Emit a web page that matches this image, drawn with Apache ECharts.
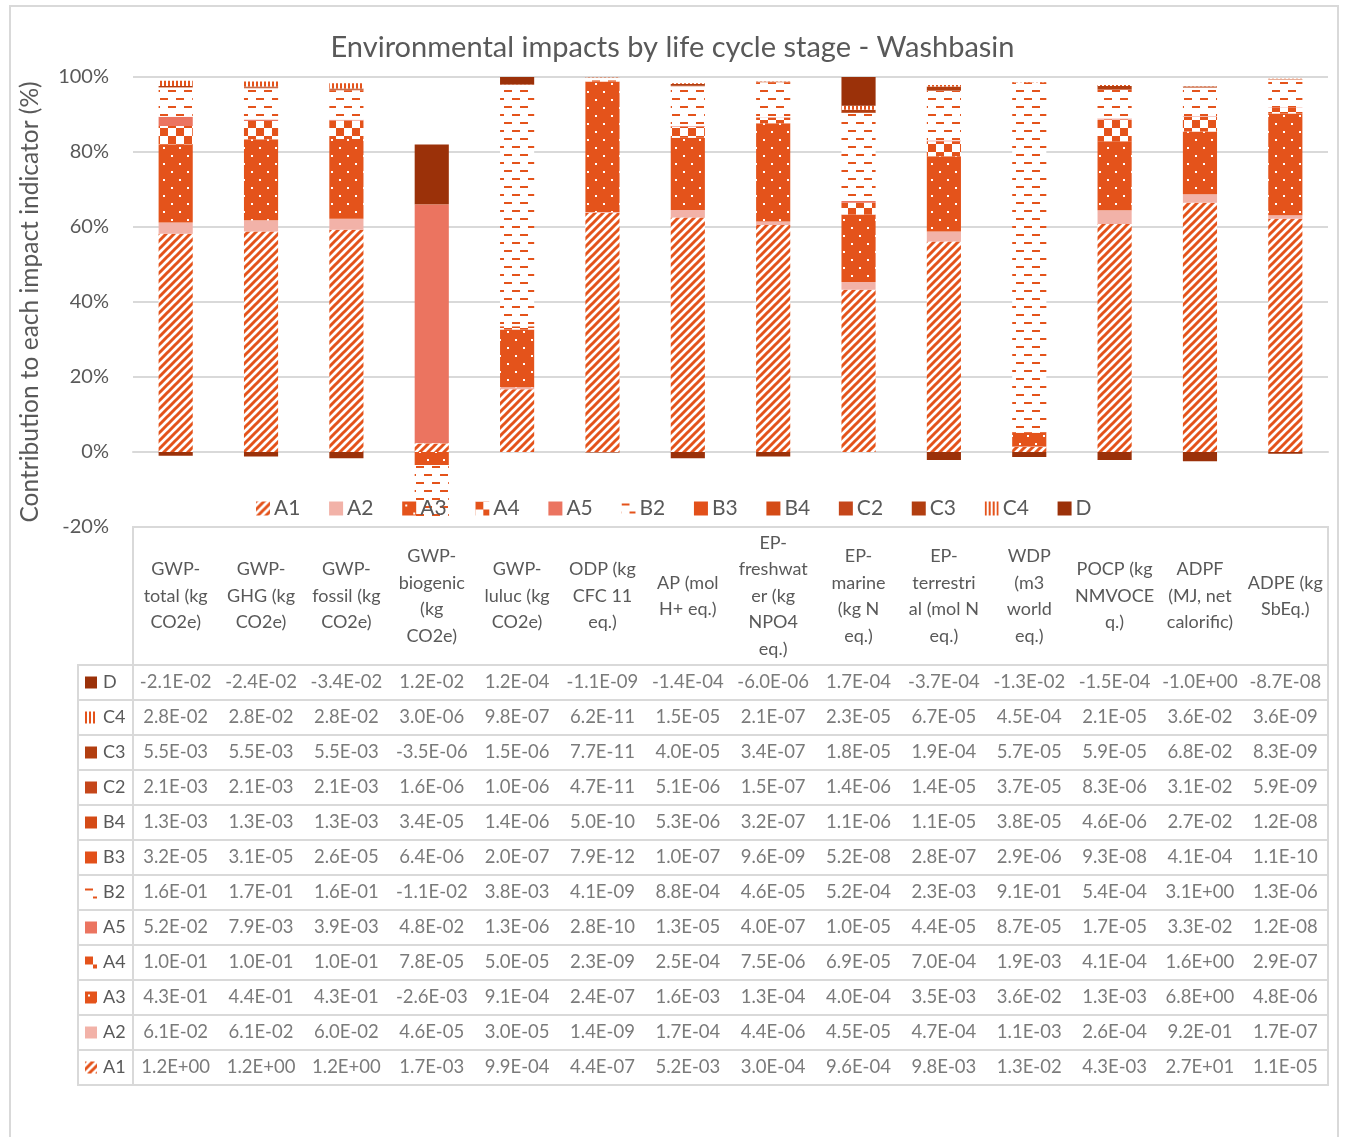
<!DOCTYPE html>
<html>
<head>
<meta charset="utf-8">
<script src="https://cdn.jsdelivr.net/npm/echarts@6/dist/echarts.min.js"></script>
<style>
html,body{margin:0;padding:0;background:#fff;}
#frame{position:absolute;left:9px;top:5px;width:1326px;height:1200px;border:2px solid #d9d9d9;}
#chart{position:absolute;left:0;top:0;width:1345px;height:1137px;}
</style>
</head>
<body>
<div id="frame"></div>
<div id="chart"></div>
<script>
// ---------------- DATA ----------------
const categories = [
  'GWP-\ntotal (kg\nCO2e)', 'GWP-\nGHG (kg\nCO2e)', 'GWP-\nfossil (kg\nCO2e)', 'GWP-\nbiogenic\n(kg\nCO2e)',
  'GWP-\nluluc (kg\nCO2e)', 'ODP (kg\nCFC 11\neq.)', 'AP (mol\nH+ eq.)', 'EP-\nfreshwat\ner (kg\nNPO4\neq.)',
  'EP-\nmarine\n(kg N\neq.)', 'EP-\nterrestri\nal (mol N\neq.)', 'WDP\n(m3\nworld\neq.)', 'POCP (kg\nNMVOCE\nq.)',
  'ADPF\n(MJ, net\ncalorific)', 'ADPE (kg\nSbEq.)'
];
const stages = ['A1','A2','A3','A4','A5','B2','B3','B4','C2','C3','C4','D'];
const tableRows = ['D','C4','C3','C2','B4','B3','B2','A5','A4','A3','A2','A1'];
const yTicks = [-20, 0, 20, 40, 60, 80, 100];

const A1 = [1.2e+0, 1.2e+0, 1.2e+0, 1.7e-3, 9.9e-4, 4.4e-7, 5.2e-3, 3.0e-4, 9.6e-4, 9.8e-3, 1.3e-2, 4.3e-3, 2.7e+1, 1.1e-5];
const A2 = [6.1e-2, 6.1e-2, 6.0e-2, 4.6e-5, 3.0e-5, 1.4e-9, 1.7e-4, 4.4e-6, 4.5e-5, 4.7e-4, 1.1e-3, 2.6e-4, 9.2e-1, 1.7e-7];
const A3 = [4.3e-1, 4.4e-1, 4.3e-1, -2.6e-3, 9.1e-4, 2.4e-7, 1.6e-3, 1.3e-4, 4.0e-4, 3.5e-3, 3.6e-2, 1.3e-3, 6.8e+0, 4.8e-6];
const A4 = [1.0e-1, 1.0e-1, 1.0e-1, 7.8e-5, 5.0e-5, 2.3e-9, 2.5e-4, 7.5e-6, 6.9e-5, 7.0e-4, 1.9e-3, 4.1e-4, 1.6e+0, 2.9e-7];
const A5 = [5.2e-2, 7.9e-3, 3.9e-3, 4.8e-2, 1.3e-6, 2.8e-10, 1.3e-5, 4.0e-7, 1.0e-5, 4.4e-5, 8.7e-5, 1.7e-5, 3.3e-2, 1.2e-8];
const B2 = [1.6e-1, 1.7e-1, 1.6e-1, -1.1e-2, 3.8e-3, 4.1e-9, 8.8e-4, 4.6e-5, 5.2e-4, 2.3e-3, 9.1e-1, 5.4e-4, 3.1e+0, 1.3e-6];
const B3 = [3.2e-5, 3.1e-5, 2.6e-5, 6.4e-6, 2.0e-7, 7.9e-12, 1.0e-7, 9.6e-9, 5.2e-8, 2.8e-7, 2.9e-6, 9.3e-8, 4.1e-4, 1.1e-10];
const B4 = [1.3e-3, 1.3e-3, 1.3e-3, 3.4e-5, 1.4e-6, 5.0e-10, 5.3e-6, 3.2e-7, 1.1e-6, 1.1e-5, 3.8e-5, 4.6e-6, 2.7e-2, 1.2e-8];
const C2 = [2.1e-3, 2.1e-3, 2.1e-3, 1.6e-6, 1.0e-6, 4.7e-11, 5.1e-6, 1.5e-7, 1.4e-6, 1.4e-5, 3.7e-5, 8.3e-6, 3.1e-2, 5.9e-9];
const C3 = [5.5e-3, 5.5e-3, 5.5e-3, -3.5e-6, 1.5e-6, 7.7e-11, 4.0e-5, 3.4e-7, 1.8e-5, 1.9e-4, 5.7e-5, 5.9e-5, 6.8e-2, 8.3e-9];
const C4 = [2.8e-2, 2.8e-2, 2.8e-2, 3.0e-6, 9.8e-7, 6.2e-11, 1.5e-5, 2.1e-7, 2.3e-5, 6.7e-5, 4.5e-4, 2.1e-5, 3.6e-2, 3.6e-9];
const D  = [-2.1e-2, -2.4e-2, -3.4e-2, 1.2e-2, 1.2e-4, -1.1e-9, -1.4e-4, -6.0e-6, 1.7e-4, -3.7e-4, -1.3e-2, -1.5e-4, -1.0e+0, -8.7e-8];

const values = {A1, A2, A3, A4, A5, B2, B3, B4, C2, C3, C4, D};

// ---------------- STYLE ----------------
const OR = '#E4531B';
const TXT = '#595959';
const LINE = '#d9d9d9';
const FONT = 'Lato';

function tile(w, h, fn) {
  const c = document.createElement('canvas');
  c.width = w; c.height = h;
  const g = c.getContext('2d');
  fn(g, w, h);
  return c;
}
const tiles = {
  A1: tile(8, 8, g => {
    g.fillStyle = '#fff'; g.fillRect(0, 0, 8, 8);
    g.strokeStyle = OR; g.lineWidth = 3;
    g.beginPath();
    g.moveTo(-4, 12); g.lineTo(12, -4);
    g.moveTo(-4, 4); g.lineTo(4, -4);
    g.moveTo(4, 12); g.lineTo(12, 4);
    g.stroke();
  }),
  A3: tile(16, 16, g => {
    g.fillStyle = OR; g.fillRect(0, 0, 16, 16);
    g.fillStyle = '#fff'; g.fillRect(3, 3, 2, 2); g.fillRect(11, 11, 2, 2);
  }),
  A4: tile(16, 16, g => {
    g.fillStyle = '#fff'; g.fillRect(0, 0, 16, 16);
    g.fillStyle = OR; g.fillRect(0, 0, 8, 8); g.fillRect(8, 8, 8, 8);
  }),
  B2: tile(16, 16, g => {
    g.fillStyle = '#fff'; g.fillRect(0, 0, 16, 16);
    g.fillStyle = OR; g.fillRect(0, 2, 8, 2); g.fillRect(8, 10, 8, 2);
  }),
  C4: tile(4, 4, g => {
    g.fillStyle = '#fff'; g.fillRect(0, 0, 4, 4);
    g.fillStyle = OR; g.fillRect(0, 0, 2, 4);
  })
};
const solid = {
  A2: '#F2B2A8', A5: '#EB7460', B3: '#E2501A', B4: '#D44B16',
  C2: '#C5461A', C3: '#B23E10', D: '#9B3109'
};
function fillOf(s) {
  return tiles[s] ? {image: tiles[s], repeat: 'repeat'} : solid[s];
}
function iconOf(s) {
  return tile(12, 12, g => {
    g.fillStyle = tiles[s] ? g.createPattern(tiles[s], 'repeat') : solid[s];
    g.fillRect(0, 0, 12, 12);
  });
}

function fmt(v) {
  const s = v.toExponential(1);
  const parts = s.split('e');
  const sign = parts[1][0];
  const d = parts[1].slice(1).padStart(2, '0');
  return parts[0] + 'E' + sign + d;
}

// share of each stage in the sum of absolute contributions per indicator
const sumAbs = categories.map((_, i) => stages.reduce((s, k) => s + Math.abs(values[k][i]), 0));

const barSeries = stages.map(s => ({
  name: s,
  type: 'bar',
  stack: 'total',
  xAxisIndex: 0,
  yAxisIndex: 0,
  barWidth: '40%',
  itemStyle: {color: fillOf(s)},
  emphasis: {disabled: true},
  data: values[s].map((v, i) => v / sumAbs[i] * 100)
}));

const tableData = [];
tableRows.forEach((r, ri) => {
  values[r].forEach((v, ci) => tableData.push([ci, ri, v]));
});

const rich = {t: {fontFamily: FONT, fontSize: 18, color: TXT, padding: [0, 0, 0, 6]}};
stages.forEach(s => { rich[s] = {width: 12, height: 12, backgroundColor: {image: iconOf(s)}}; });

const chart = echarts.init(document.getElementById('chart'), null, {renderer: 'canvas'});
chart.setOption({
  backgroundColor: 'transparent',
  animation: false,
  title: {
    text: 'Environmental impacts by life cycle stage - Washbasin',
    left: 'center', top: 28,
    textStyle: {fontFamily: FONT, fontSize: 29, fontWeight: 'normal', color: TXT}
  },
  legend: {
    data: stages,
    left: 251, top: 493,
    itemWidth: 14, itemHeight: 14, itemGap: 28.7,
    icon: 'rect',
    textStyle: {fontFamily: FONT, fontSize: 21, color: TXT, padding: [0, 0, 0, -1]}
  },
  grid: [
    {left: 133, right: 17, top: 77, height: 450, outerBoundsMode: 'none', containLabel: false},
    {left: 133, right: 17, top: 665, height: 420, outerBoundsMode: 'none', containLabel: false,
     show: true, borderColor: LINE, borderWidth: 2, backgroundColor: 'transparent'},
    {left: 133, right: 17, top: 527, height: 138, outerBoundsMode: 'none', containLabel: false,
     show: true, borderColor: LINE, borderWidth: 2, backgroundColor: 'transparent'},
    {left: 78, width: 55, top: 665, height: 420, outerBoundsMode: 'none', containLabel: false,
     show: true, borderColor: LINE, borderWidth: 2, backgroundColor: 'transparent'}
  ],
  xAxis: [
    {type: 'category', gridIndex: 0, data: categories,
     axisLabel: {show: false}, axisTick: {show: false},
     axisLine: {show: true, onZero: true, lineStyle: {color: LINE, width: 2}}},
    {type: 'category', gridIndex: 1, data: categories, position: 'top',
     axisTick: {show: false}, axisLine: {show: false}, splitLine: {show: false},
     axisLabel: {interval: 0, margin: 69, verticalAlign: 'middle', lineHeight: 26.5,
                 fontFamily: FONT, fontSize: 18, color: TXT, hideOverlap: false}},
    {type: 'category', gridIndex: 2, data: categories, show: false},
    {type: 'category', gridIndex: 3, data: ['row'], show: false}
  ],
  yAxis: [
    {type: 'value', gridIndex: 0, min: yTicks[0], max: yTicks[yTicks.length - 1], interval: 20,
     name: 'Contribution to each impact indicator (%)',
     nameLocation: 'middle', nameGap: 90, nameRotate: 90,
     nameTextStyle: {fontFamily: FONT, fontSize: 24.5, color: TXT},
     axisLabel: {formatter: '{value}%', fontFamily: FONT, fontSize: 20, color: TXT, margin: 24},
     axisLine: {show: false}, axisTick: {show: false},
     splitLine: {lineStyle: {color: LINE, width: 2}}},
    {type: 'category', gridIndex: 1, data: tableRows, inverse: true,
     axisLabel: {show: false}, axisTick: {show: false}, axisLine: {show: false},
     splitLine: {show: true, interval: 0, lineStyle: {color: LINE, width: 2}}},
    {type: 'category', gridIndex: 2, data: ['hdr'], show: false},
    {type: 'category', gridIndex: 3, data: tableRows, inverse: true,
     axisTick: {show: false}, axisLine: {show: false},
     splitLine: {show: true, interval: 0, lineStyle: {color: LINE, width: 2}},
     axisLabel: {inside: true, margin: 7, align: 'left', interval: 0,
                 formatter: v => '{' + v + '|}{t|' + v + '}', rich: rich}}
  ],
  series: barSeries.concat([{
    type: 'scatter',
    name: 'table',
    xAxisIndex: 1,
    yAxisIndex: 1,
    symbolSize: 1,
    itemStyle: {color: 'transparent'},
    emphasis: {disabled: true},
    silent: true,
    label: {
      show: true, position: 'inside',
      fontFamily: FONT, fontSize: 18.5, color: TXT,
      formatter: p => fmt(p.value[2])
    },
    data: tableData
  }])
});
</script>
</body>
</html>
